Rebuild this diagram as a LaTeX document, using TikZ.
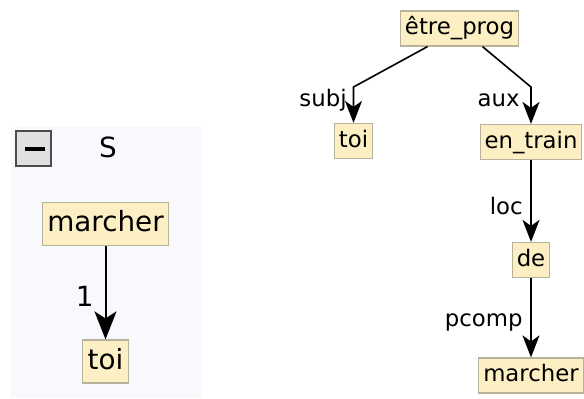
\documentclass[tikz,border=0pt]{standalone}
\usepackage{fontspec}
\setmainfont{DejaVu Sans}
\usetikzlibrary{arrows.meta,calc}
\definecolor{wordfill}{HTML}{FBEFC3}
\definecolor{worddraw}{HTML}{B9B29A}
\definecolor{panelfill}{HTML}{F7F9FD}
\tikzset{
  word/.style     = {draw=worddraw, fill=wordfill, line width=0.6pt, inner xsep=2.2pt,
                     inner ysep=0pt, text height=9pt, text depth=2.8pt, minimum height=17.5pt,
                     font=\fontsize{11.4}{13}\selectfont},
  bigword/.style  = {word, font=\fontsize{13.9}{16}\selectfont, text height=11pt,
                     text depth=3.3pt, minimum height=21.5pt, inner xsep=2.4pt},
  dep/.style      = {-{Stealth[length=11pt,width=8.5pt,inset=3pt]}, line width=0.8pt},
  bigdep/.style   = {-{Stealth[length=14pt,width=11pt,inset=3.5pt]}, line width=1pt},
  deplabel/.style = {font=\fontsize{11.4}{13}\selectfont, inner sep=1pt, anchor=east},
}

\begin{document}
\begin{tikzpicture}[x=0.5pt,y=-0.5pt]
  \useasboundingbox (0,0) rectangle (584,398);

  % ---- collapsed panel on the left -------------------------------------
  \fill[panelfill] (11,127) rectangle (201,398);
  \draw[line width=0.7pt, draw=black!70, fill=black!12] (16,131) rectangle (51,166);
  \draw[line width=2pt] (25,149) -- (45,149);
  \node[font=\fontsize{13.9}{16}\selectfont] (stitle) at (108,147) {S};

  \node[bigword] (marcherS) at (105.5,224) {marcher};
  \node[bigword] (toiS) at (105.5,361.5) {toi};
  \draw[bigdep] (marcherS.south) -- (toiS.north);
  \node[deplabel, font=\fontsize{13.9}{16}\selectfont] (lone) at (96,296) {1};

  % ---- dependency tree ----------------------------------------------------
  \node[word] (etre) at (459.5,28.5) {être\_prog};
  \node[word] (toi) at (353.5,141) {toi};
  \node[word] (entrain) at (531,142) {en\_train};
  \node[word] (de) at (531,260) {de};
  \node[word] (marcher) at (531,375.5) {marcher};

  \draw[dep] ([xshift=-16pt]etre.south) -- (toi.north |- 0,87) -- (toi.north);
  \draw[dep] ([xshift=11.5pt]etre.south) -- (entrain.north |- 0,87) -- (entrain.north);
  \draw[dep] (entrain.south) -- (de.north);
  \draw[dep] (de.south) -- (marcher.north);

  \node[deplabel] (lsubj) at (349,100) {subj};
  \node[deplabel] (laux) at (522,100) {aux};
  \node[deplabel] (lloc) at (525,206) {loc};
  \node[deplabel] (lpcomp) at (525,322) {pcomp};
\end{tikzpicture}
\end{document}
